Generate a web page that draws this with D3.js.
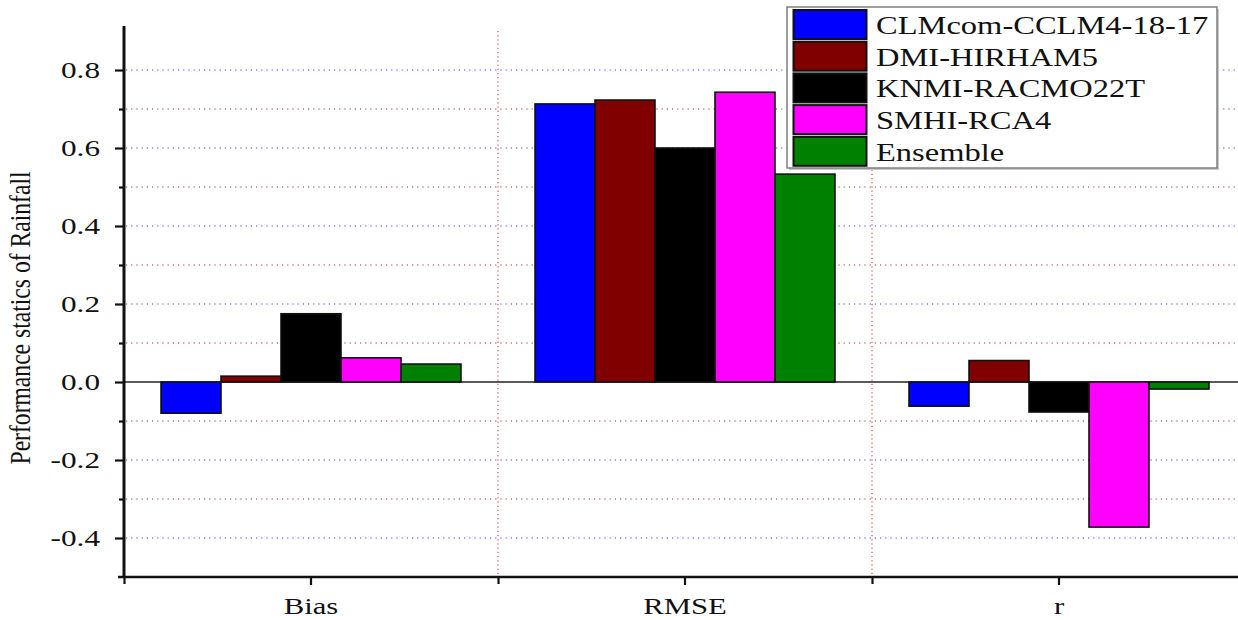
<!DOCTYPE html>
<html>
<head>
<meta charset="utf-8">
<script src="https://cdn.jsdelivr.net/npm/d3@7"></script>
<style>
  html, body { margin: 0; padding: 0; background: #fff; }
  svg { display: block; }
</style>
</head>
<body>
<svg id="chart" width="1238" height="620"></svg>
<script>
// Statistic categories along the x axis
const categories = ["Bias", "RMSE", "r"];
// Regional climate models (one bar per model in each category)
const models = ["CLMcom-CCLM4-18-17", "DMI-HIRHAM5", "KNMI-RACMO22T", "SMHI-RCA4", "Ensemble"];
const modelColors = ["#0000ff", "#800000", "#000000", "#ff00ff", "#008000"];
// Values per model, in category order (Bias, RMSE, r)
const clmcomValues = [-0.080, 0.713, -0.062];
const dmiValues    = [0.015, 0.723, 0.055];
const knmiValues   = [0.175, 0.600, -0.077];
const smhiValues   = [0.062, 0.743, -0.372];
const ensembleValues = [0.046, 0.533, -0.018];
const seriesValues = [clmcomValues, dmiValues, knmiValues, smhiValues, ensembleValues];
// Y axis ticks
const majorTicks = [-0.4, -0.2, 0.0, 0.2, 0.4, 0.6, 0.8];
const minorTicks = [-0.3, -0.1, 0.1, 0.3, 0.5, 0.7];
const yLabel = "Performance statics of Rainfall";

const SERIF = "'Liberation Serif', 'Times New Roman', serif";
const svg = d3.select("#chart");
const plotLeft = 124, plotRight = 1246, plotTop = 31, plotBottom = 577;

// widen text horizontally by factor k (the figure uses a wide serif face)
function stretch(sel, k) {
  sel.each(function () {
    const w = this.getComputedTextLength();
    d3.select(this).attr("textLength", w * k).attr("lengthAdjust", "spacingAndGlyphs");
  });
}

const y = d3.scaleLinear().domain([-0.5, 0.9]).range([plotBottom, plotTop]);
const x = d3.scaleBand().domain(categories).range([plotLeft, plotRight]).paddingInner(0).paddingOuter(0);
const inner = d3.scaleBand().domain(models).range([0, x.bandwidth()]).paddingOuter(0.617).paddingInner(0);

const plot = svg.append("g");

// horizontal grid: blue at major, dark red at minor
plot.selectAll("line.gmaj").data(majorTicks.filter(v => v !== 0)).join("line")
  .attr("x1", plotLeft + 2).attr("x2", plotRight)
  .attr("y1", d => y(d)).attr("y2", d => y(d))
  .attr("stroke", "#3b3bff").attr("stroke-width", 1).attr("stroke-dasharray", "1.2,4");
plot.selectAll("line.gmin").data(minorTicks).join("line")
  .attr("x1", plotLeft + 2).attr("x2", plotRight)
  .attr("y1", d => y(d)).attr("y2", d => y(d))
  .attr("stroke", "#a03030").attr("stroke-width", 1).attr("stroke-dasharray", "1.2,4");

// vertical dividers between categories
const dividers = categories.slice(1).map(c => x(c));
plot.selectAll("line.vdiv").data(dividers).join("line")
  .attr("x1", d => d).attr("x2", d => d)
  .attr("y1", plotTop).attr("y2", plotBottom)
  .attr("stroke", "#c03030").attr("stroke-width", 1).attr("stroke-dasharray", "1.2,3");

// zero line
plot.append("line").attr("x1", plotLeft).attr("x2", plotRight)
  .attr("y1", y(0)).attr("y2", y(0))
  .attr("stroke", "#222").attr("stroke-width", 1.6);

// bars
models.forEach((m, i) => {
  plot.append("g").selectAll("rect").data(categories).join("rect")
    .attr("x", c => x(c) + inner(m))
    .attr("width", inner.bandwidth())
    .attr("y", (c, j) => y(Math.max(0, seriesValues[i][j])))
    .attr("height", (c, j) => Math.abs(y(seriesValues[i][j]) - y(0)))
    .attr("fill", modelColors[i])
    .attr("stroke", "#111").attr("stroke-width", 1.6);
});

// y axis
const yAxis = d3.axisLeft(y).tickValues(majorTicks).tickSize(9).tickPadding(15)
  .tickFormat(d => d < 0 ? "-" + Math.abs(d).toFixed(1) : d.toFixed(1));
const gy = svg.append("g").attr("transform", `translate(${plotLeft},0)`).call(yAxis);
gy.select(".domain").attr("stroke", "#111").attr("stroke-width", 3).attr("d", `M0,${plotTop - 5}V${plotBottom + 1}`);
gy.selectAll(".tick line").attr("stroke", "#111").attr("stroke-width", 2.2);
gy.selectAll(".tick text").style("font-family", SERIF).style("font-size", "24px").attr("fill", "#111")
  .call(stretch, 1.3);
const yMinor = d3.axisLeft(y).tickValues(minorTicks).tickFormat("").tickSize(5);
const gym = svg.append("g").attr("transform", `translate(${plotLeft},0)`).call(yMinor);
gym.select(".domain").remove();
gym.selectAll(".tick line").attr("stroke", "#111").attr("stroke-width", 2.2);

// x axis
const xAxis = d3.axisBottom(x).tickSize(8).tickPadding(12);
const gx = svg.append("g").attr("transform", `translate(0,${plotBottom})`).call(xAxis);
gx.select(".domain").attr("stroke", "#111").attr("stroke-width", 2.5).attr("d", `M${plotLeft - 6},0H${plotRight}`);
gx.selectAll(".tick line").attr("stroke", "#111").attr("stroke-width", 2.2);
gx.selectAll(".tick text").style("font-family", SERIF).style("font-size", "24px").attr("fill", "#111")
  .call(stretch, 1.28);
const gxm = svg.append("g").attr("transform", `translate(0,${plotBottom})`)
  .call(d3.axisBottom(d3.scaleIdentity()).tickValues([plotLeft, ...dividers]).tickFormat("").tickSize(7));
gxm.select(".domain").remove();
gxm.selectAll(".tick line").attr("stroke", "#111").attr("stroke-width", 2.2);

// y axis title (condensed serif, rotated)
svg.append("text")
  .attr("transform", `translate(30,${(plotTop + plotBottom) / 2 + 14}) scale(1.3,1) rotate(-90)`)
  .attr("text-anchor", "middle")
  .style("font-family", SERIF).style("font-size", "22px").attr("fill", "#111")
  .attr("textLength", 293).attr("lengthAdjust", "spacingAndGlyphs")
  .text(yLabel);

// legend
const lg = svg.append("g").attr("transform", "translate(787,7)");
lg.append("rect").attr("x", 2).attr("y", 2).attr("width", 430).attr("height", 161).attr("fill", "#c8c8c8");
lg.append("rect").attr("x", 0).attr("y", 0).attr("width", 430).attr("height", 161)
  .attr("fill", "#fff").attr("stroke", "#777").attr("stroke-width", 1.4);
const rowH = 31.7;
models.forEach((m, i) => {
  const ry = 3 + i * rowH;
  lg.append("rect").attr("x", 6.5).attr("y", ry).attr("width", 73).attr("height", 29)
    .attr("fill", modelColors[i]).attr("stroke", "#111").attr("stroke-width", 2);
  lg.append("text").attr("x", 89).attr("y", ry + 24)
    .style("font-family", SERIF).style("font-size", "26px").attr("fill", "#111")
    .text(m).call(stretch, 1.25);
});
</script>
</body>
</html>
